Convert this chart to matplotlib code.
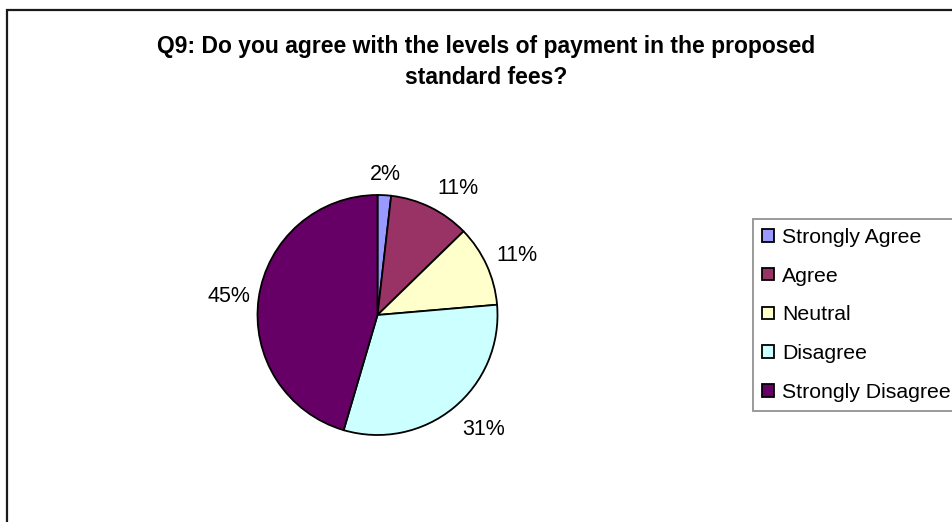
import numpy as np
import matplotlib
matplotlib.use("Agg")
import matplotlib.pyplot as plt
from matplotlib.patches import Rectangle

plt.rcParams['font.family'] = ['Liberation Sans', 'DejaVu Sans']

# Survey responses (counts)
categories = ["Strongly Agree", "Agree", "Neutral", "Disagree", "Strongly Disagree"]
responses = [1, 6, 6, 17, 25]
colors = ["#9999FF", "#993366", "#FFFFCC", "#CCFFFF", "#660066"]
title = "Q9: Do you agree with the levels of payment in the proposed\nstandard fees?"

W, H = 953, 522
fig = plt.figure(figsize=(W / 100, H / 100), dpi=100)
fig.patch.set_facecolor("white")

# outer chart-area frame (runs off the right and bottom edges)
fig.add_artist(Rectangle((7 / W, -0.2), 1.5, 1.2 - 10 / H,
                         transform=fig.transFigure, fill=False,
                         edgecolor="#1a1a1a", linewidth=1.6))

fig.text(486 / W, 1 - 62 / H, title, ha="center", va="center",
         fontsize=16.5, fontweight="bold", linespacing=1.45)

# pie plot area: 240 px square centred at (377.5, 315)
ax = fig.add_axes([257.5 / W, 1 - 435 / H, 240 / W, 240 / H])
wedges, texts, autotexts = ax.pie(
    responses, colors=colors, startangle=90, counterclock=False,
    autopct="%.0f%%",
    wedgeprops=dict(edgecolor="black", linewidth=1.3),
    textprops=dict(fontsize=15.5, color="black"),
)

# percentage labels sit just outside the rim, aligned away from the pie;
# side labels hug the rim a little closer than top/bottom ones
for w, t in zip(wedges, autotexts):
    ang = np.deg2rad((w.theta1 + w.theta2) / 2)
    ux, uy = np.cos(ang), np.sin(ang)
    r = 1.13 - 0.065 * ux ** 4
    t.set_position((r * ux, r * uy))
    t.set_ha("left" if ux > 0.3 else "right" if ux < -0.3 else "center")
    t.set_va("baseline" if uy > 0.3 else "top" if uy < -0.3 else "center")

ax.set_xlim(-1, 1)
ax.set_ylim(-1, 1)
ax.set_aspect("equal")
ax.axis("off")

leg = fig.legend(wedges, categories, loc="upper left",
                 bbox_to_anchor=(753 / W, 1 - 219 / H), borderaxespad=0,
                 fontsize=15.3, frameon=True, fancybox=False,
                 edgecolor="#808080", handlelength=0.56, handleheight=0.52,
                 handletextpad=0.38, borderpad=0.42, labelspacing=0.93)
leg.get_frame().set_linewidth(1.4)

fig.savefig("out.png", dpi=100, facecolor="white")
